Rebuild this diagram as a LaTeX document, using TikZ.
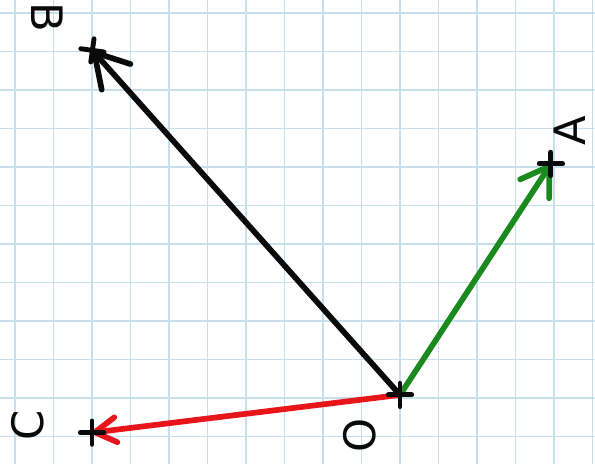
\documentclass[tikz,border=0pt]{standalone}
\usepackage{fontspec}
\setsansfont{DejaVu Sans}
\usepackage{xcolor}
\usepackage{tikz}
\usetikzlibrary{
  arrows.meta, shapes.misc, backgrounds
}
\definecolor{vcGrid}{HTML}{C6DFEA}
\definecolor{vcInk}{HTML}{0A0A0A}
\definecolor{vcGreen}{HTML}{1A8A1E}
\definecolor{vcRed}{HTML}{E8161B}
\tikzset{
  vc-grid/.style={draw=vcGrid, line width=1.4pt},
  vc-mark/.style={
    cross out, draw=vcInk, line width=3.6pt, line cap=round,
    minimum size=0.43cm, inner sep=0pt, outer sep=0pt, rotate=45
  },
  vc-vec/.style={line width=4.2pt, line cap=round},
  vc-lbl/.style={
    font=\fontsize{32}{32}\selectfont\sffamily, text=vcInk, inner sep=0pt
  },
}

\begin{document}
\begin{tikzpicture}
  \useasboundingbox (-0.39,-11.714) rectangle (15.065,0.338);

  \node[vc-mark] (O) at (10,-9.92) {};
  \node[vc-mark] (A) at (13.92,-3.92) {};
  \node[vc-mark, rotate=-8] (B) at (2.01,-0.97) {};
  \node[vc-mark] (C) at (2,-10.9) {};

  \node[vc-lbl, rotate=-90] (Blbl) at (0.83,-0.12) {B};
  \node[vc-lbl, rotate=90] (Albl) at (14.42,-3.06) {A};
  \node[vc-lbl, rotate=90] (Clbl) at (0.33,-10.7) {C};
  \node[vc-lbl, rotate=90] (Olbl) at (8.96,-10.96) {O};

  \begin{scope}[on background layer]
    \fill[white] (-0.39,-11.714) rectangle (15.065,0.338);
    \draw[vc-grid] (-0.39,-11.714) grid (15.065,0.338);
    \draw[vc-vec, draw=vcInk, -{Straight Barb[length=8.5mm,width=10mm,round]}] (O.center) -- (B.center);
    \draw[vc-vec, draw=vcGreen, -{Straight Barb[length=7mm,width=9mm,round]}] (O.center) -- (A.center);
    \draw[vc-vec, draw=vcRed, -{Straight Barb[length=5.5mm,width=6.5mm,round]}] (O.center) -- (C.center);
  \end{scope}
\end{tikzpicture}
\end{document}
